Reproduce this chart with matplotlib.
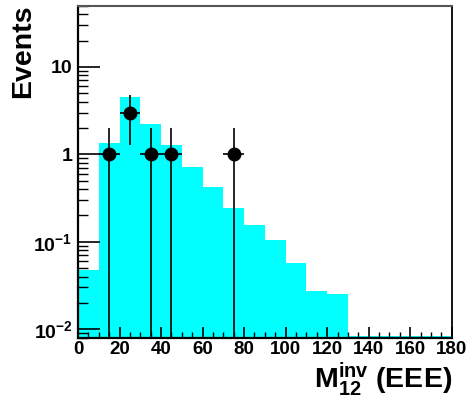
import numpy as np
import matplotlib
matplotlib.use("Agg")
import matplotlib.pyplot as plt
from matplotlib.ticker import FixedLocator, LogLocator, FuncFormatter, MultipleLocator

plt.rcParams['font.family'] = ['Liberation Sans', 'DejaVu Sans']
plt.rcParams['font.weight'] = 'bold'
plt.rcParams['mathtext.fontset'] = 'custom'
plt.rcParams['mathtext.rm'] = 'Liberation Sans:bold'
plt.rcParams['mathtext.bf'] = 'Liberation Sans:bold'
plt.rcParams['mathtext.it'] = 'Liberation Sans:bold'

# Expected events per 10 GeV bin (MC), 0-180
bin_edges = np.arange(0, 190, 10)
mc_values = [0.0475, 1.35, 4.5, 2.22, 1.27, 0.71, 0.42, 0.244, 0.155,
             0.105, 0.0567, 0.0274, 0.0255, 0.0083, 0.0083, 0.0083, 0.0083, 0.0083]

# Observed data points
data_x = [15, 25, 35, 45, 75]
data_y = [1, 3, 1, 1, 1]
data_err_up = [1.0, 1.73, 1.0, 1.0, 1.0]
data_err_down = [0.999, 1.73, 0.999, 0.999, 0.999]

ymin, ymax = 0.008, 50

fig = plt.figure(figsize=(4.68, 4.09), dpi=100)
ax = fig.add_axes([78/468, 1 - 337.7/409, (451.7 - 78) / 468, (337.7 - 5.7) / 409])

ax.stairs(mc_values, bin_edges, fill=True, baseline=ymin, color='#00ffff', lw=0)

ax.errorbar(data_x, data_y, yerr=[data_err_down, data_err_up], xerr=5,
            fmt='o', color='black', ms=9, elinewidth=1.2, capsize=0, zorder=3)

ax.set_yscale('log')
ax.set_xlim(0, 180)
ax.set_ylim(ymin, ymax)

ax.xaxis.set_major_locator(MultipleLocator(20))
ax.xaxis.set_minor_locator(MultipleLocator(5))
ax.yaxis.set_major_locator(FixedLocator([0.01, 0.1, 1, 10]))
ax.yaxis.set_minor_locator(LogLocator(base=10, subs=np.arange(2, 10)))

def ylab(v, pos):
    if v == 1:
        return '1'
    if v == 10:
        return '10'
    e = int(round(np.log10(v)))
    return r'$10^{%d}$' % e

ax.yaxis.set_major_formatter(FuncFormatter(ylab))
ax.yaxis.set_minor_formatter(FuncFormatter(lambda v, p: ''))

ax.tick_params(axis='both', which='both', direction='in', top=False, right=False)
ax.tick_params(axis='y', which='major', length=15.5, width=1.2, labelsize=14, pad=4)
ax.tick_params(axis='y', which='minor', length=7.5, width=1.0)
ax.tick_params(axis='x', which='major', length=8, width=1.2, labelsize=13.5, pad=2.5)
ax.tick_params(axis='x', which='minor', length=4, width=1.0)

for lbl in ax.get_xticklabels() + ax.get_yticklabels():
    lbl.set_fontweight('bold')

ax.spines['left'].set_linewidth(1.6)
ax.spines['bottom'].set_linewidth(1.6)
ax.spines['top'].set_linewidth(1.5)
ax.spines['top'].set_color('#555555')
ax.spines['right'].set_linewidth(1.3)

fig.text(23/468, 1 - 4/409, 'Events', rotation=90, ha='center', va='top',
         fontsize=20.5, fontweight='bold')

fig.text(452/468, 1 - 388/409, r'$\mathbf{M}_{\mathbf{12}}^{\mathbf{inv}}$ (EEE)',
         ha='right', va='baseline', fontsize=20.5, fontweight='bold')

fig.savefig('out.png', dpi=100)
